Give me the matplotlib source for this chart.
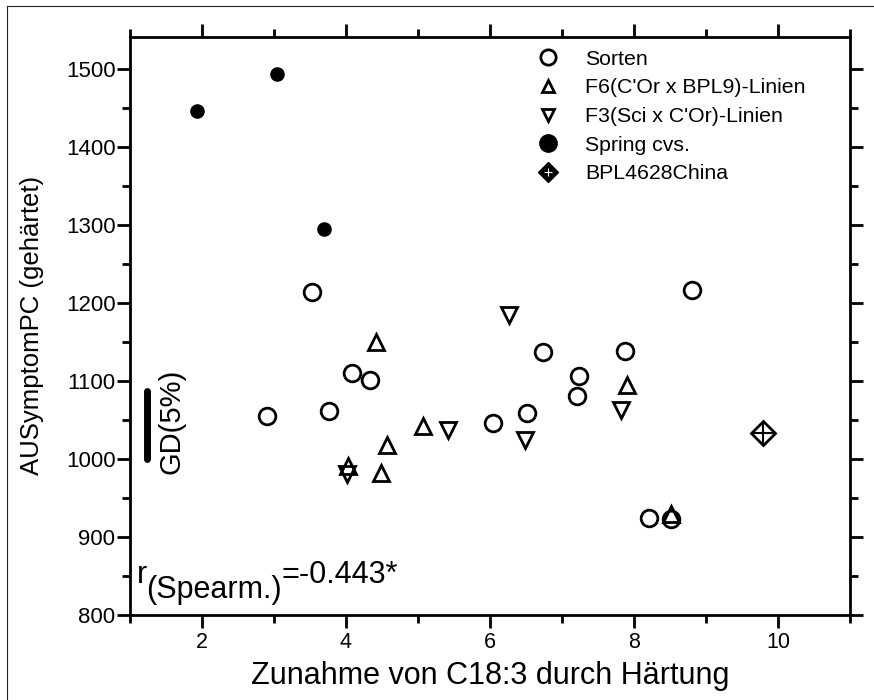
import matplotlib
matplotlib.use("Agg")
import matplotlib.pyplot as plt
from matplotlib.lines import Line2D
from matplotlib.ticker import MultipleLocator

plt.rcParams['font.family'] = ['Liberation Sans', 'DejaVu Sans']

# ---- data ----
sorten_x = [2.90, 3.53, 3.77, 4.09, 4.33, 6.04, 6.52, 6.73, 7.21, 7.24, 7.87, 8.21, 8.52, 8.80]
sorten_y = [1054, 1214, 1061, 1110, 1101, 1045, 1058, 1137, 1080, 1106, 1138, 924, 923, 1216]

f6_x = [4.03, 4.42, 4.49, 4.57, 5.07, 7.90, 8.52]
f6_y = [990, 1150, 982, 1018, 1042, 1094, 929]

f3_x = [4.02, 5.41, 6.26, 6.48, 7.82]
f3_y = [980, 1037, 1184, 1024, 1062]

spring_x = [1.93, 3.04, 3.69]
spring_y = [1446, 1493, 1295]

china_x = [9.79]
china_y = [1033]

gd_x = [1.24, 1.24]
gd_y = [1000, 1087]

labels = ["Sorten", "F6(C'Or x BPL9)-Linien", "F3(Sci x C'Or)-Linien",
          "Spring cvs.", "BPL4628China"]
x_ticks = [2, 4, 6, 8, 10]
y_ticks = [800, 900, 1000, 1100, 1200, 1300, 1400, 1500]

# ---- figure ----
W, H = 874, 700
fig = plt.figure(figsize=(W / 100, H / 100), dpi=100)
ax = fig.add_axes([130 / W, 1 - 614.5 / H, 720 / W, (614.5 - 36.7) / H])

lw = 2.0
ax.plot(sorten_x, sorten_y, 'o', ms=12, mfc='none', mec='black', mew=lw, zorder=3)
ax.plot(f6_x, f6_y, '^', ms=12, mfc='none', mec='black', mew=lw, zorder=3)
ax.plot(f3_x, f3_y, 'v', ms=12, mfc='none', mec='black', mew=lw, zorder=3)
ax.plot(spring_x, spring_y, 'o', ms=10.5, mfc='black', mec='black', mew=0, zorder=3)
ax.plot(china_x, china_y, 'D', ms=12, mfc='none', mec='black', mew=lw, zorder=3)
ax.plot(china_x, china_y, '+', ms=16, mec='black', mew=1.5, zorder=3)

# GD bar
ax.plot(gd_x, gd_y, '-', color='black', lw=5, solid_capstyle='round', zorder=3)
ax.text(1.58, 1048, "GD(5%)", rotation=90, ha='center', va='center', fontsize=21)

# Spearman text
ax.text(1.09, 841, "r", fontsize=22, ha='left', va='baseline')
ax.text(1.225, 821.5, "(Spearm.)", fontsize=22, ha='left', va='baseline')
ax.text(3.10, 841, "=-0.443*", fontsize=22, ha='left', va='baseline')

ax.set_xlim(1, 11)
ax.set_ylim(800, 1541)
ax.set_xticks(x_ticks)
ax.set_yticks(y_ticks)
ax.xaxis.set_minor_locator(MultipleLocator(1))
ax.yaxis.set_minor_locator(MultipleLocator(50))

for s in ax.spines.values():
    s.set_linewidth(2.0)

ax.tick_params(which='both', direction='out', top=True, right=True, width=2.0)
ax.tick_params(which='major', length=9.5)
ax.tick_params(which='minor', length=5.5)
ax.tick_params(axis='x', which='major', labelsize=15.5, pad=3)
ax.tick_params(axis='y', which='major', labelsize=16, pad=1)

ax.set_xlabel("Zunahme von C18:3 durch Härtung", fontsize=22)
ax.xaxis.set_label_coords(0.5, -0.081)
ax.xaxis.label.set_va('top')
ax.set_ylabel("AUSymptomPC (gehärtet)", fontsize=18.5)
ax.yaxis.set_label_coords(-0.119, 0.5)

# legend
handles = [
    Line2D([], [], ls='none', marker='o', ms=11, mfc='none', mec='black', mew=lw),
    Line2D([], [], ls='none', marker='^', ms=9, mfc='none', mec='black', mew=lw),
    Line2D([], [], ls='none', marker='v', ms=9, mfc='none', mec='black', mew=lw),
    Line2D([], [], ls='none', marker='o', ms=13.5, mfc='black', mec='black', mew=0),
    (Line2D([], [], ls='none', marker='D', ms=10, mfc='black', mec='black', mew=1),
     Line2D([], [], ls='none', marker='+', ms=6, mec='white', mew=0.8)),
]
leg = ax.legend(handles, labels, loc='upper left', bbox_to_anchor=(0.5597, 0.9776),
                frameon=False, fontsize=15.3, handlelength=1.4, handletextpad=1.04,
                labelspacing=0.455, borderpad=0, borderaxespad=0)

# figure border (left and top)
fig.add_artist(Line2D([7 / W, 7 / W], [0, 1 - 6 / H], transform=fig.transFigure,
                      color='#222222', lw=0.8))
fig.add_artist(Line2D([7 / W, 1], [1 - 6 / H, 1 - 6 / H], transform=fig.transFigure,
                      color='#222222', lw=0.8))

fig.savefig("out.png", dpi=100)
